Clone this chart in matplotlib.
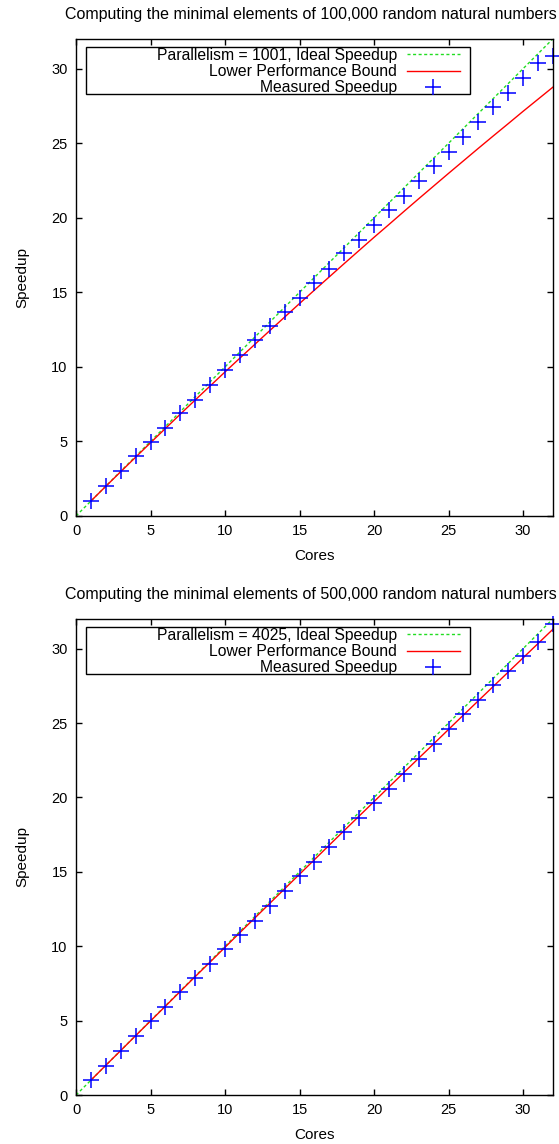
import matplotlib
matplotlib.use("Agg")
from matplotlib import pyplot as plt
from matplotlib.patches import Rectangle

plt.rcParams["font.family"] = ["Liberation Sans", "DejaVu Sans"]
plt.rcParams["font.size"] = 10.5

CORES = list(range(1, 33))
IDEAL_CORES = [0, 32]
IDEAL_SPEEDUP = [0, 32]

TITLES = [
    "Computing the minimal elements of 100,000 random natural numbers",
    "Computing the minimal elements of 500,000 random natural numbers",
]
PARALLELISM = [1001, 4025]

# lower performance bound
LOWER_100K = [
    1.00, 1.99, 2.97, 3.94, 4.91, 5.87, 6.83, 7.78, 8.72, 9.66,
    10.59, 11.51, 12.43, 13.34, 14.25, 15.15, 16.04, 16.93, 17.81, 18.69,
    19.55, 20.42, 21.28, 22.13, 22.98, 23.82, 24.66, 25.49, 26.31, 27.14,
    27.95, 28.76,
]
LOWER_500K = [
    1.00, 2.00, 2.99, 3.99, 4.98, 5.97, 6.97, 7.96, 8.94, 9.93,
    10.92, 11.90, 12.88, 13.86, 14.84, 15.82, 16.80, 17.78, 18.75, 19.72,
    20.70, 21.67, 22.64, 23.60, 24.57, 25.54, 26.50, 27.46, 28.42, 29.38,
    30.34, 31.30,
]

MEASURED_100K = [
    1.0, 2.0, 3.0, 4.0, 4.93, 5.87, 6.9, 7.8, 8.81, 9.82,
    10.78, 11.77, 12.72, 13.7, 14.59, 15.65, 16.54, 17.67, 18.54, 19.52,
    20.54, 21.47, 22.44, 23.49, 24.43, 25.45, 26.45, 27.45, 28.4, 29.37,
    30.38, 30.85,
]
MEASURED_500K = [
    1.01, 1.97, 2.98, 3.97, 4.98, 5.94, 6.95, 7.85, 8.81, 9.8,
    10.76, 11.72, 12.71, 13.74, 14.73, 15.69, 16.7, 17.68, 18.65, 19.62,
    20.58, 21.59, 22.6, 23.6, 24.61, 25.6, 26.56, 27.53, 28.47, 29.48,
    30.48, 31.67,
]

GREEN = "#22dd22"
RED = "#ff0000"
BLUE = "#0000ff"


def draw(ax, title, par, lower, measured):
    ax.plot(IDEAL_CORES, IDEAL_SPEEDUP, color=GREEN, lw=1, dashes=(2.2, 1.8),
            label=f"Parallelism = {par}, Ideal Speedup")
    ax.plot(CORES, lower, color=RED, lw=1, label="Lower Performance Bound")
    ax.plot(CORES, measured, ls="none", marker="+", ms=11, mew=1.1,
            color=BLUE, clip_on=False, label="Measured Speedup")

    ax.set_xlim(0, 32)
    ax.set_ylim(0, 32)
    ax.set_xticks(range(0, 31, 5))
    ax.set_yticks(range(0, 31, 5))
    ax.tick_params(direction="in", top=True, right=True, length=4.5,
                   width=1, pad=6)
    for s in ax.spines.values():
        s.set_linewidth(1)

    ax.set_title(title, pad=14, fontsize=11.5, x=0.4927)
    ax.set_xlabel("Cores", labelpad=8, fontsize=11)
    ax.set_ylabel("Speedup", labelpad=16, fontsize=11)

    leg = ax.legend(loc="upper right", bbox_to_anchor=(0.805, 0.981),
                    markerfirst=False, frameon=False, handlelength=3.4,
                    handletextpad=0.6, labelspacing=0.08, borderpad=0,
                    borderaxespad=0, fontsize=11.3)
    leg.set_zorder(5)
    ax.add_patch(Rectangle((0.021, 0.885), 0.805, 0.099, transform=ax.transAxes,
                           fill=True, facecolor="white", edgecolor="black",
                           lw=1, zorder=4))


def main():
    fig = plt.figure(figsize=(5.59, 11.44), dpi=100)
    ax1 = fig.add_axes([0.136, 0.549, 0.853, 0.417])
    ax2 = fig.add_axes([0.136, 0.0428, 0.853, 0.4162])

    draw(ax1, TITLES[0], PARALLELISM[0], LOWER_100K, MEASURED_100K)
    draw(ax2, TITLES[1], PARALLELISM[1], LOWER_500K, MEASURED_500K)

    fig.savefig("out.png", dpi=100)


if __name__ == "__main__":
    main()
